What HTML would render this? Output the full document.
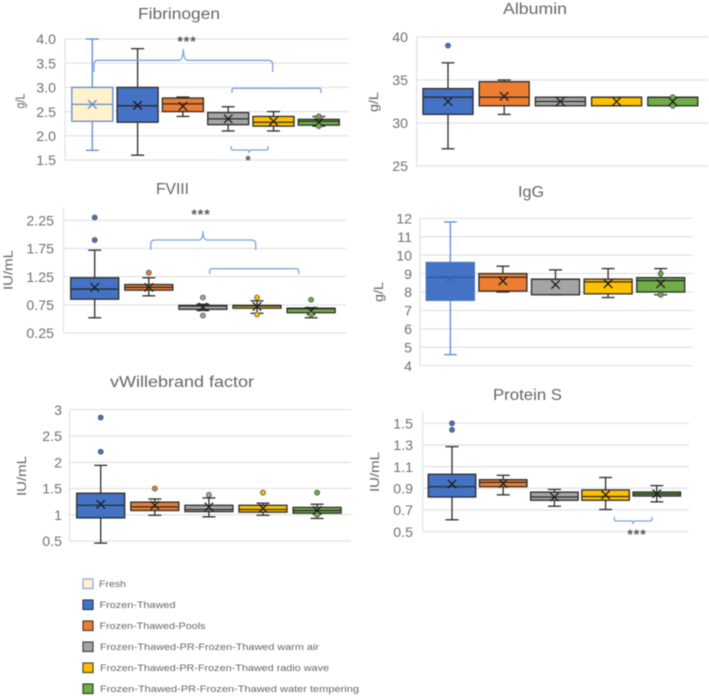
<!DOCTYPE html>
<html lang="en">
<head>
<meta charset="utf-8">
<title>Coagulation factor box plots</title>
<style>
html,body{margin:0;padding:0;background:#fff;width:709px;height:696px;overflow:hidden}
svg{display:block;filter:blur(0.55px);font-family:"Liberation Sans",sans-serif}
.title{font-size:15.5px;fill:#666}
.axis-title{font-size:13px;fill:#666}
.tick{font-size:14.2px;fill:#707070}
.bracket{fill:none;stroke:#7ea3da;stroke-width:1.3}
.stars{font-size:14px;font-weight:bold;fill:#555;letter-spacing:1px}
.legend-text{font-size:9.5px;fill:#666}
</style>
</head>
<body>
<svg id="figure" width="709" height="696" viewBox="0 0 709 696" xmlns="http://www.w3.org/2000/svg">
  <rect width="709" height="696" fill="#fff"/>
  <g id="marks"></g>

  <g>
    <text class="title" x="138" y="19" textLength="82" lengthAdjust="spacingAndGlyphs">Fibrinogen</text>
    <text class="title" x="503" y="14" textLength="64" lengthAdjust="spacingAndGlyphs">Albumin</text>
    <text class="title" x="156" y="194" textLength="33" lengthAdjust="spacingAndGlyphs">FVIII</text>
    <text class="title" x="518" y="197" textLength="26" lengthAdjust="spacingAndGlyphs">IgG</text>
    <text class="title" x="110" y="387" textLength="144" lengthAdjust="spacingAndGlyphs">vWillebrand factor</text>
    <text class="title" x="493" y="400" textLength="69" lengthAdjust="spacingAndGlyphs">Protein S</text>
  </g>

  <g text-anchor="middle">
    <text class="axis-title" transform="translate(24.5,101) rotate(-90)" textLength="15" lengthAdjust="spacingAndGlyphs">g/L</text>
    <text class="axis-title" transform="translate(378,102) rotate(-90)" textLength="20" lengthAdjust="spacingAndGlyphs">g/L</text>
    <text class="axis-title" transform="translate(12.5,270) rotate(-90)" textLength="40" lengthAdjust="spacingAndGlyphs">IU/mL</text>
    <text class="axis-title" transform="translate(383,292) rotate(-90)" textLength="20" lengthAdjust="spacingAndGlyphs">g/L</text>
    <text class="axis-title" transform="translate(26,476) rotate(-90)" textLength="40" lengthAdjust="spacingAndGlyphs">IU/mL</text>
    <text class="axis-title" transform="translate(379,472) rotate(-90)" textLength="40" lengthAdjust="spacingAndGlyphs">IU/mL</text>
  </g>

  <g>
    <path class="bracket" d="M94 72 V64 Q94 60.3 98 60.3 H179 Q183 60.3 183.3 49 Q183.6 60.3 188 60.3 H268 Q272.7 60.3 272.7 64 V72"/>
    <path class="bracket" d="M232 93 V90 Q232 88.3 234 88.3 H319 Q321 88.3 321 90 V93"/>
    <path class="bracket" d="M231 146 V148 Q231 150 233 150 H247 Q249 150 249 153 Q249 150 251 150 H266 Q268 150 268 148 V146"/>
    <text class="stars" x="187" y="46" text-anchor="middle">***</text>
    <text class="stars" x="248.5" y="165" text-anchor="middle">*</text>
    <path class="bracket" d="M150.7 250 V244 Q150.7 240 155 240 H199 Q203 240 203 231 Q203 240 207 240 H251 Q255.7 240 255.7 244 V250"/>
    <path class="bracket" d="M209.7 274 V271 Q209.7 268.7 212 268.7 H296 Q298.7 268.7 298.7 271 V274"/>
    <text class="stars" x="201" y="219" text-anchor="middle">***</text>
    <path class="bracket" d="M614.3 516.7 V519 Q614.3 521 616.5 521 H631 Q633 521 633 524 Q633 521 635 521 H650 Q652 521 652 519 V516.7"/>
    <text class="stars" x="637" y="539" text-anchor="middle">***</text>
  </g>

  <g>
    <g>
      <rect x="83" y="579" width="10" height="9.5" fill="#fff2cc" stroke="#8aa8da" stroke-width="1.2"/>
      <text class="legend-text" x="99" y="587" textLength="27" lengthAdjust="spacingAndGlyphs">Fresh</text>
    </g>
    <g>
      <rect x="83" y="600" width="10" height="9.5" fill="#4472c4" stroke="#2c3e5e" stroke-width="1.2"/>
      <text class="legend-text" x="99.5" y="608" textLength="76" lengthAdjust="spacingAndGlyphs">Frozen-Thawed</text>
    </g>
    <g>
      <rect x="83" y="621" width="10" height="9.5" fill="#ed7d31" stroke="#4a4038" stroke-width="1.2"/>
      <text class="legend-text" x="99.5" y="629" textLength="106" lengthAdjust="spacingAndGlyphs">Frozen-Thawed-Pools</text>
    </g>
    <g>
      <rect x="83" y="642" width="10" height="9.5" fill="#a5a5a5" stroke="#444" stroke-width="1.2"/>
      <text class="legend-text" x="100" y="650" textLength="219" lengthAdjust="spacingAndGlyphs">Frozen-Thawed-PR-Frozen-Thawed warm air</text>
    </g>
    <g>
      <rect x="83" y="663" width="10" height="9.5" fill="#ffc000" stroke="#4a4430" stroke-width="1.2"/>
      <text class="legend-text" x="100" y="671" textLength="229" lengthAdjust="spacingAndGlyphs">Frozen-Thawed-PR-Frozen-Thawed radio wave</text>
    </g>
    <g>
      <rect x="83" y="684" width="10" height="9.5" fill="#70ad47" stroke="#33452a" stroke-width="1.2"/>
      <text class="legend-text" x="100" y="692" textLength="259" lengthAdjust="spacingAndGlyphs">Frozen-Thawed-PR-Frozen-Thawed water tempering</text>
    </g>
  </g>
</svg>

<script>
// ---- Categories ----
const allCategories = ['Fresh', 'Frozen-Thawed', 'Frozen-Thawed-Pools', 'warm air', 'radio wave', 'water tempering'];
const thawedCategories = ['Frozen-Thawed', 'Frozen-Thawed-Pools', 'warm air', 'radio wave', 'water tempering'];

// ---- Fibrinogen ----
const fibrinogenTicks = ['1.5', '2.0', '2.5', '3.0', '3.5', '4.0'];
const fibrinogenLow = [1.7, 1.6, 2.4, 2.1, 2.1, 2.2];
const fibrinogenQ1 = [2.3, 2.28, 2.5, 2.23, 2.2, 2.22];
const fibrinogenMedian = [2.65, 2.62, 2.66, 2.35, 2.28, 2.3];
const fibrinogenQ3 = [3.0, 3.0, 2.78, 2.48, 2.4, 2.34];
const fibrinogenHigh = [4.0, 3.8, 2.8, 2.6, 2.5, 2.4];
const fibrinogenMean = [2.65, 2.63, 2.61, 2.35, 2.3, 2.28];
const fibrinogenOutliers = [[], [], [], [], [], [2.4, 2.2]];

// ---- Albumin ----
const albuminTicks = ['25', '30', '35', '40'];
const albuminLow = [27, 31, 32, 32, 32];
const albuminQ1 = [31, 32, 32, 32, 32];
const albuminMedian = [33, 33, 32.5, 33, 33];
const albuminQ3 = [34, 34.8, 33, 33, 33];
const albuminHigh = [37, 35, 33, 33, 33];
const albuminMean = [32.5, 33.1, 32.5, 32.5, 32.5];
const albuminOutliers = [[39], [], [], [], [33, 32]];

// ---- FVIII ----
const fviiiTicks = ['0.25', '0.75', '1.25', '1.75', '2.25'];
const fviiiLow = [0.52, 0.91, 0.65, 0.6, 0.52];
const fviiiQ1 = [0.85, 1.01, 0.67, 0.69, 0.61];
const fviiiMedian = [1.03, 1.06, 0.73, 0.73, 0.68];
const fviiiQ3 = [1.23, 1.11, 0.74, 0.74, 0.69];
const fviiiHigh = [1.72, 1.23, 0.76, 0.82, 0.7];
const fviiiMean = [1.06, 1.06, 0.71, 0.72, 0.64];
const fviiiOutliers = [[2.3, 1.9], [1.32], [0.88, 0.56], [0.88, 0.58], [0.84, 0.58]];

// ---- IgG ----
const iggTicks = ['4', '5', '6', '7', '8', '9', '10', '11', '12'];
const iggLow = [4.6, 8.0, 7.85, 7.7, 7.85];
const iggQ1 = [7.55, 8.05, 7.85, 7.9, 8.0];
const iggMedian = [8.8, 8.8, 8.7, 8.55, 8.62];
const iggQ3 = [9.6, 9.0, 8.7, 8.7, 8.78];
const iggHigh = [11.8, 9.4, 9.2, 9.27, 9.27];
const iggMean = [8.7, 8.6, 8.4, 8.45, 8.45];
const iggOutliers = [[], [], [], [], [9.0, 7.85]];

// ---- vWillebrand factor ----
const vwfTicks = ['0.5', '1', '1.5', '2', '2.5', '3'];
const vwfLow = [0.46, 0.99, 0.96, 0.99, 0.93];
const vwfQ1 = [0.94, 1.08, 1.06, 1.05, 1.03];
const vwfMedian = [1.18, 1.15, 1.1, 1.1, 1.08];
const vwfQ3 = [1.41, 1.24, 1.18, 1.18, 1.14];
const vwfHigh = [1.94, 1.3, 1.32, 1.22, 1.2];
const vwfMean = [1.2, 1.18, 1.15, 1.12, 1.08];
const vwfOutliers = [[2.85, 2.2], [1.5], [1.38], [1.42], [1.42, 1.0]];

// ---- Protein S ----
const proteinSTicks = ['0.5', '0.7', '0.9', '1.1', '1.3', '1.5'];
const proteinSLow = [0.61, 0.84, 0.735, 0.705, 0.775];
const proteinSQ1 = [0.82, 0.915, 0.79, 0.79, 0.829];
const proteinSMedian = [0.915, 0.955, 0.82, 0.825, 0.848];
const proteinSQ3 = [1.03, 0.98, 0.865, 0.885, 0.866];
const proteinSHigh = [1.285, 1.02, 0.89, 1.0, 0.925];
const proteinSMean = [0.94, 0.945, 0.82, 0.84, 0.85];
const proteinSOutliers = [[1.5, 1.44], [], [], [], []];

// ---- Styling ----
const palette = {
  'Fresh': '#fff2cc',
  'Frozen-Thawed': '#4472c4',
  'Frozen-Thawed-Pools': '#ed7d31',
  'warm air': '#a5a5a5',
  'radio wave': '#ffc000',
  'water tempering': '#70ad47'
};
const SVGNS = 'http://www.w3.org/2000/svg';
const root = document.getElementById('marks');

function make(parent, tag, attrs) {
  const el = document.createElementNS(SVGNS, tag);
  for (const k in attrs) el.setAttribute(k, attrs[k]);
  parent.appendChild(el);
  return el;
}

function drawChart(c) {
  const lo = parseFloat(c.ticks[0]);
  const hi = parseFloat(c.ticks[c.ticks.length - 1]);
  const y = v => c.yBottom - (v - lo) / (hi - lo) * (c.yBottom - c.yTop);
  const x = i => c.cx0 + i * c.step;

  const g = make(root, 'g', {});
  
  

  c.ticks.forEach(t => {
    const v = parseFloat(t);
    const grid = make(g, 'line', { x1: c.left, x2: c.right, y1: y(v), y2: y(v), stroke: '#e2e2e2', 'stroke-width': 1.2 });
    
    
    const label = make(g, 'text', { x: c.labelRight, y: y(v) + 5.2, 'text-anchor': 'end', class: 'tick' });
    label.textContent = t;
    
    
  });

  const axis = make(g, 'line', { x1: c.left, x2: c.left, y1: c.axisTop, y2: c.yBottom, stroke: '#e2e2e2', 'stroke-width': 1.2 });
  
  

  c.categories.forEach((cat, i) => {
    const light = c.lightStyle.includes(cat);
    const edge = light ? '#5f8ad0' : '#2b2b2b';
    const midColor = light ? (cat === 'Fresh' ? '#5f8ad0' : '#2f5597') : '#2b2b2b';
    const markColor = light ? (cat === 'Fresh' ? '#5f8ad0' : '#3a66ad') : '#1c1c1c';
    const cx = x(i);
    const half = c.boxW / 2;

    const s = make(g, 'g', {});
    
    

    const ws = { stroke: edge, 'stroke-width': 1.3 };
    make(s, 'line', Object.assign({ x1: cx, x2: cx, y1: y(c.high[i]), y2: y(c.q3[i]) }, ws));
    make(s, 'line', Object.assign({ x1: cx, x2: cx, y1: y(c.q1[i]), y2: y(c.low[i]) }, ws));
    make(s, 'line', Object.assign({ x1: cx - 6.5, x2: cx + 6.5, y1: y(c.high[i]), y2: y(c.high[i]) }, ws));
    make(s, 'line', Object.assign({ x1: cx - 6.5, x2: cx + 6.5, y1: y(c.low[i]), y2: y(c.low[i]) }, ws));

    make(s, 'rect', {
      x: cx - half, y: y(c.q3[i]), width: c.boxW, height: y(c.q1[i]) - y(c.q3[i]),
      fill: palette[cat], stroke: cat === 'Frozen-Thawed' && light ? '#4472c4' : edge, 'stroke-width': 1.3
    });
    make(s, 'line', { x1: cx - half, x2: cx + half, y1: y(c.median[i]), y2: y(c.median[i]), stroke: midColor, 'stroke-width': 1.3 });

    const m = y(c.mean[i]);
    make(s, 'path', {
      d: 'M' + (cx - 4.2) + ' ' + (m - 4.2) + 'L' + (cx + 4.2) + ' ' + (m + 4.2) + 'M' + (cx - 4.2) + ' ' + (m + 4.2) + 'L' + (cx + 4.2) + ' ' + (m - 4.2),
      stroke: markColor, 'stroke-width': 1.3, fill: 'none'
    });

    c.outliers[i].forEach(v => {
      const dot = make(s, 'circle', { cx: cx, cy: y(v), r: 2.5, fill: palette[cat], stroke: '#555', 'stroke-width': 0.8 });
      
      
    });
  });
}

drawChart({ name: 'fibrinogen', categories: allCategories, ticks: fibrinogenTicks, low: fibrinogenLow, q1: fibrinogenQ1, median: fibrinogenMedian, q3: fibrinogenQ3, high: fibrinogenHigh, mean: fibrinogenMean, outliers: fibrinogenOutliers,
  left: 65, right: 349, yTop: 39, yBottom: 160, axisTop: 39, labelRight: 56, cx0: 92.3, step: 45.3, boxW: 41, lightStyle: ['Fresh'] });
drawChart({ name: 'albumin', categories: thawedCategories, ticks: albuminTicks, low: albuminLow, q1: albuminQ1, median: albuminMedian, q3: albuminQ3, high: albuminHigh, mean: albuminMean, outliers: albuminOutliers,
  left: 416.7, right: 708, yTop: 37, yBottom: 166, axisTop: 37, labelRight: 408, cx0: 448, step: 56.2, boxW: 50, lightStyle: [] });
drawChart({ name: 'fviii', categories: thawedCategories, ticks: fviiiTicks, low: fviiiLow, q1: fviiiQ1, median: fviiiMedian, q3: fviiiQ3, high: fviiiHigh, mean: fviiiMean, outliers: fviiiOutliers,
  left: 63.5, right: 346, yTop: 220.3, yBottom: 333, axisTop: 207, labelRight: 54, cx0: 94.7, step: 54.1, boxW: 48, lightStyle: [] });
drawChart({ name: 'igg', categories: thawedCategories, ticks: iggTicks, low: iggLow, q1: iggQ1, median: iggMedian, q3: iggQ3, high: iggHigh, mean: iggMean, outliers: iggOutliers,
  left: 420, right: 693, yTop: 218.3, yBottom: 365.7, axisTop: 218.3, labelRight: 412, cx0: 450.3, step: 52.6, boxW: 48, lightStyle: ['Frozen-Thawed'] });
drawChart({ name: 'vwillebrand', categories: thawedCategories, ticks: vwfTicks, low: vwfLow, q1: vwfQ1, median: vwfMedian, q3: vwfQ3, high: vwfHigh, mean: vwfMean, outliers: vwfOutliers,
  left: 69.5, right: 351, yTop: 409.7, yBottom: 541, axisTop: 409.7, labelRight: 62, cx0: 100.7, step: 54.1, boxW: 48, lightStyle: [] });
drawChart({ name: 'protein-s', categories: thawedCategories, ticks: proteinSTicks, low: proteinSLow, q1: proteinSQ1, median: proteinSMedian, q3: proteinSQ3, high: proteinSHigh, mean: proteinSMean, outliers: proteinSOutliers,
  left: 422.7, right: 689, yTop: 423.3, yBottom: 531.7, axisTop: 412, labelRight: 413, cx0: 452, step: 51.2, boxW: 47.5, lightStyle: [] });
</script>
</body>
</html>
